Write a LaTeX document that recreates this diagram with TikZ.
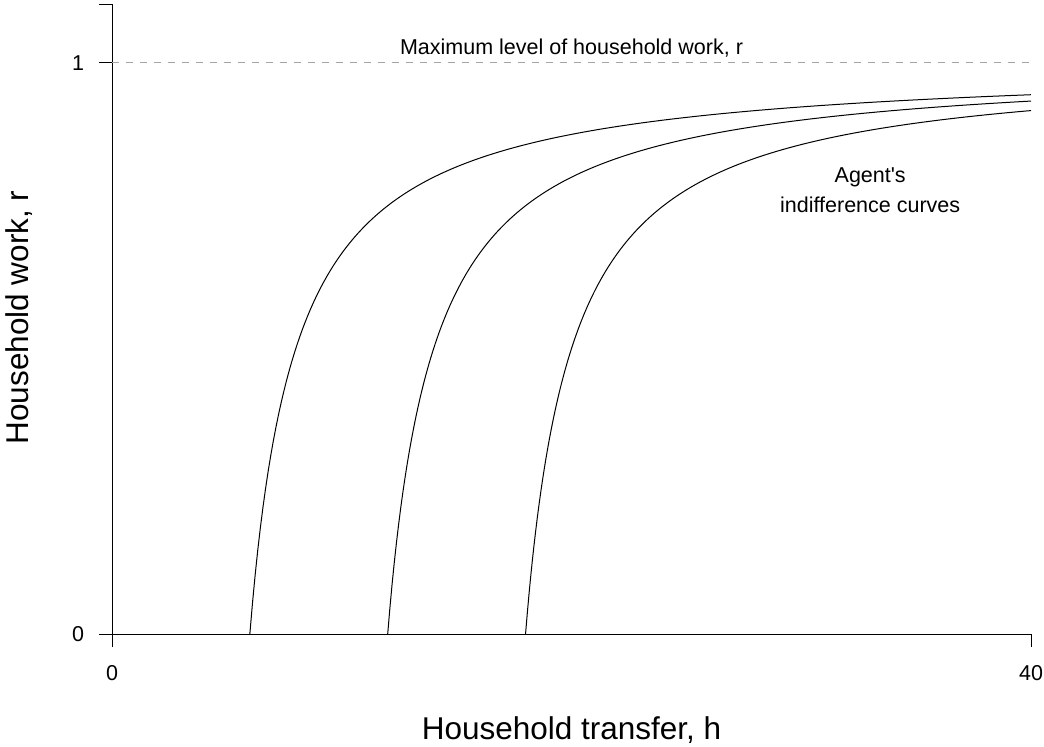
\documentclass[tikz,border=0pt]{standalone}
\usepackage{fontspec}
\setmainfont{Liberation Sans}
\usepackage{tikz}
\definecolor{dashgray}{RGB}{165,165,165}

\begin{document}
\begin{tikzpicture}[x=22.975pt, y=571pt, line width=1pt,
  every node/.style={inner sep=0pt, outer sep=0pt},
  ticklabel/.style={font=\fontsize{21.5}{30}\selectfont},
  axistitle/.style={font=\fontsize{31.5}{38}\selectfont}]
\useasboundingbox (-4.87486,-0.196147) rectangle (40.5658,1.110333);

\draw (0,-0.02277) -- (0,1.10158) -- ++(-13pt,0);
\draw (0,0) -- ++(-13pt,0);
\draw (0,1) -- ++(-13pt,0);
\draw (0,0) -- (40,0) -- ++(0,-13pt);
\draw[dashgray, dash pattern=on 7pt off 7pt] (0,1) -- (40,1);

\foreach \hz in {6,12,18}
  \draw[line join=round] plot[domain=\hz:40, samples=300] (\x, {(\x-\hz)/(\x-\hz+2)});

\node[ticklabel, anchor=east] (ylab1) at ([xshift=-28pt]0,1) {1};
\node[ticklabel, anchor=east] (ylab0) at ([xshift=-28pt]0,0) {0};
\node[ticklabel] (xlab0) at ([yshift=-39pt]0,0) {0};
\node[ticklabel] (xlab40) at ([yshift=-39pt]40,0) {40};
\node[ticklabel, anchor=base] (maxlabel) at ([yshift=8pt]20,1) {Maximum level of household work, r};
\node[ticklabel, align=center] (curvelabel) at (33,0.7771) {Agent\textquotesingle s\\indifference curves};

\node[axistitle, anchor=base] (xtitle) at ([yshift=-105pt]20,0) {Household transfer, h};
\node[axistitle, anchor=base, rotate=90] (ytitle) at ([xshift=-83pt]0,0.5543) {Household work, r};
\end{tikzpicture}
\end{document}
